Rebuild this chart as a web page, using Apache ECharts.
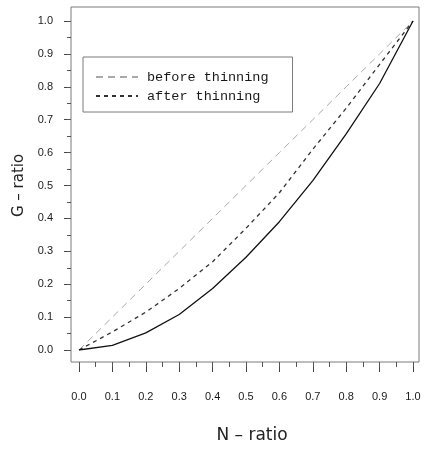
<!DOCTYPE html>
<html><head><meta charset="utf-8">
<script src="https://cdn.jsdelivr.net/npm/echarts@6/dist/echarts.min.js"></script>
<style>html,body{margin:0;padding:0;background:#fff}#c{width:430px;height:450px}</style>
</head><body><div id="c"></div>
<script>
const nRatio = [0.0, 0.1, 0.2, 0.3, 0.4, 0.5, 0.6, 0.7, 0.8, 0.9, 1.0];
const beforeThinning = [0.0, 0.1, 0.2, 0.3, 0.4, 0.5, 0.6, 0.7, 0.8, 0.9, 1.0];
const afterThinning = [0.0, 0.055, 0.115, 0.187, 0.268, 0.37, 0.478, 0.61, 0.735, 0.868, 1.0];
const gCurve = [0.0, 0.014, 0.052, 0.108, 0.187, 0.282, 0.39, 0.515, 0.657, 0.81, 1.0];
const tickLabels = ['0.0','0.1','0.2','0.3','0.4','0.5','0.6','0.7','0.8','0.9','1.0'];

const pairs = ys => nRatio.map((x, i) => [x, ys[i]]);
const lbl = v => { const i = Math.round(v * 10); return tickLabels[i] !== undefined ? tickLabels[i] : ''; };

const hidden = g => ({gridIndex: g, type: 'value', min: 0, max: 1, show: false});
const tickAxis = (g, interval, color, extra) => Object.assign({
  gridIndex: g, type: 'value', min: 0, max: 1, interval: interval,
  axisLine: {show: false}, axisTick: {show: false},
  axisLabel: {show: false},
  splitLine: {show: true, lineStyle: {color: color, width: 1}}
}, extra || {});

const chart = echarts.init(document.getElementById('c'), null, {renderer: 'canvas'});
chart.setOption({
  animation: false,
  backgroundColor: '#fff',
  grid: [
    {left: 79, right: 17, top: 21, bottom: 100},                         // 0 data
    {left: 71, right: 11, top: 7, bottom: 88, show: true, borderColor: '#7a7a7a', borderWidth: 1, backgroundColor: 'transparent'}, // 1 box
    {left: 79, right: 17, top: 362, height: 10},                         // 2 x major ticks
    {left: 79, right: 17, top: 362, height: 5},                          // 3 x minor ticks
    {left: 64, width: 7, top: 21, bottom: 100},                          // 4 y major ticks
    {left: 67, width: 4, top: 21, bottom: 100}                           // 5 y minor ticks
  ],
  legend: {
    left: 83, top: 57, orient: 'vertical',
    data: ['before thinning', 'after thinning'],
    itemWidth: 42, itemHeight: 14, itemGap: 5,
    padding: [13, 24, 9, 12],
    borderColor: '#7a7a7a', borderWidth: 1,
    itemStyle: {opacity: 0},
    textStyle: {fontFamily: 'Liberation Mono', fontSize: 13.5, color: '#1a1a1a', padding: [0, 0, 0, 4]}
  },
  xAxis: [
    hidden(0),
    hidden(1),
    tickAxis(2, 0.1, '#444', {
      position: 'bottom',
      axisLabel: {show: true, margin: 19, fontFamily: 'Liberation Sans', fontSize: 11, color: '#1a1a1a', formatter: lbl},
      name: 'N \u2013 ratio', nameLocation: 'middle', nameGap: 55,
      nameTextStyle: {fontFamily: 'DejaVu Sans', fontSize: 17, color: '#222', padding: [0, 0, 0, 12]}
    }),
    tickAxis(3, 0.05, '#555'),
    hidden(4),
    hidden(5)
  ],
  yAxis: [
    hidden(0),
    hidden(1),
    hidden(2),
    hidden(3),
    tickAxis(4, 0.1, '#444', {
      position: 'left',
      axisLabel: {show: true, margin: 11, fontFamily: 'Liberation Sans', fontSize: 11, color: '#1a1a1a', formatter: lbl},
      name: 'G \u2013 ratio', nameLocation: 'middle', nameGap: 37, nameRotate: 90,
      nameTextStyle: {fontFamily: 'DejaVu Sans', fontSize: 15, color: '#222'}
    }),
    tickAxis(5, 0.05, '#555')
  ],
  series: [
    {
      name: 'before thinning', type: 'line', xAxisIndex: 0, yAxisIndex: 0,
      data: pairs(beforeThinning), symbol: 'none',
      itemStyle: {color: '#a8a8a8'},
      lineStyle: {color: '#a8a8a8', width: 1, type: [7, 5]}
    },
    {
      name: 'after thinning', type: 'line', xAxisIndex: 0, yAxisIndex: 0,
      data: pairs(afterThinning), symbol: 'none',
      itemStyle: {color: '#333'},
      lineStyle: {color: '#333', width: 1.3, type: [4, 4]}
    },
    {
      name: 'G-ratio curve', type: 'line', xAxisIndex: 0, yAxisIndex: 0,
      data: pairs(gCurve), symbol: 'none',
      itemStyle: {color: '#111'},
      lineStyle: {color: '#111', width: 1.3, type: 'solid'}
    }
  ]
});
</script></body></html>
